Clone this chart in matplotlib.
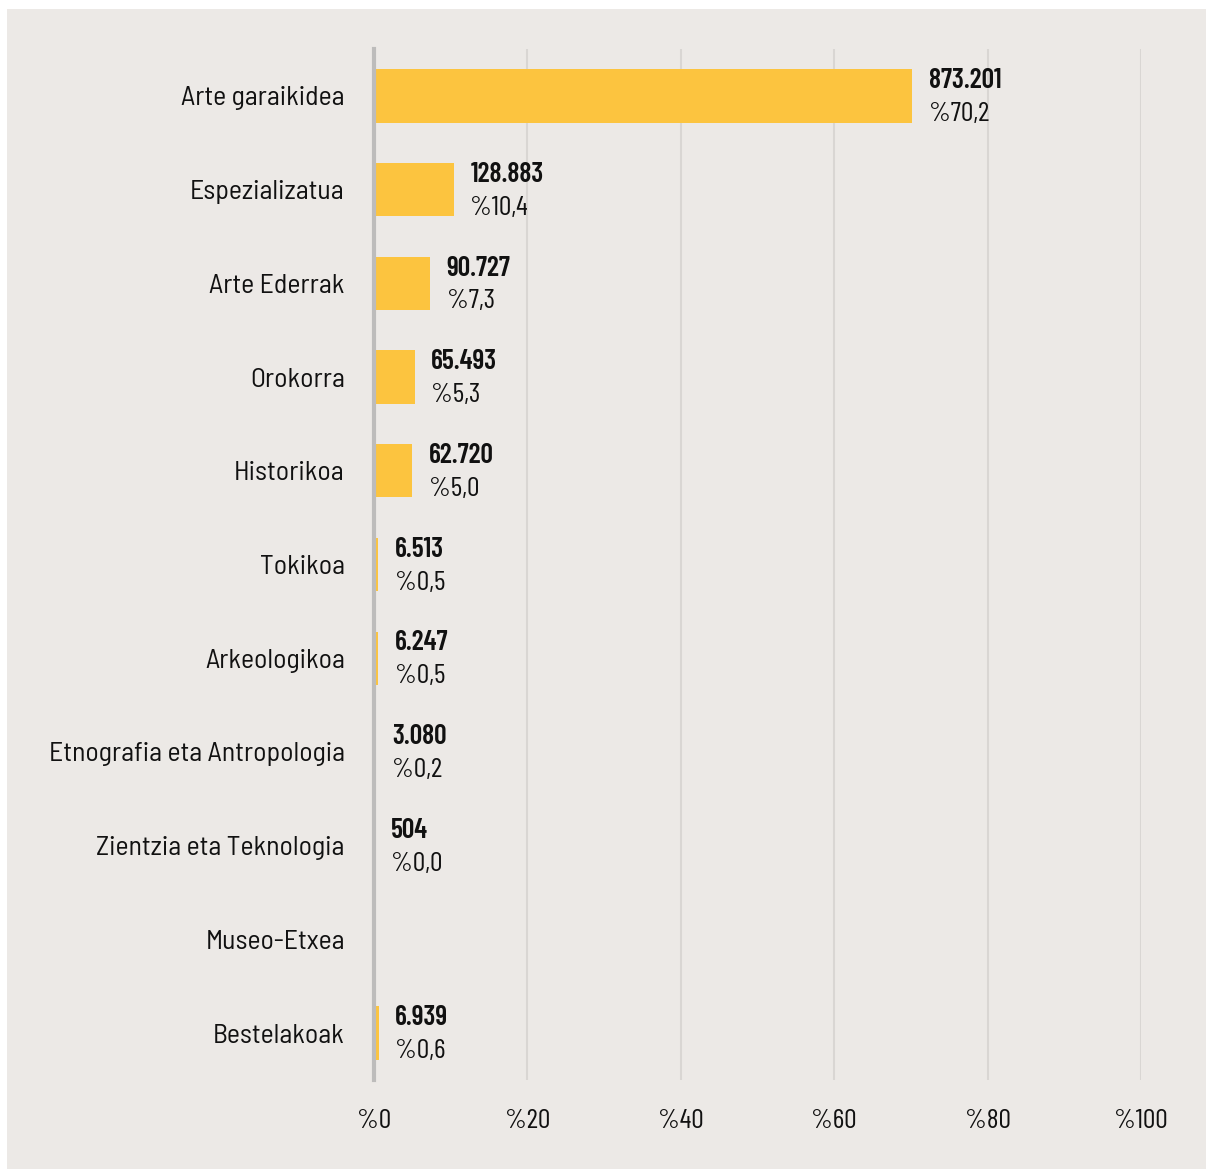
import matplotlib.pyplot as plt
from matplotlib.patches import Rectangle

# datuak
kategoriak = ["Arte garaikidea", "Espezializatua", "Arte Ederrak", "Orokorra",
              "Historikoa", "Tokikoa", "Arkeologikoa",
              "Etnografia eta Antropologia", "Zientzia eta Teknologia",
              "Museo-Etxea", "Bestelakoak"]
bisitariak = ["873.201", "128.883", "90.727", "65.493", "62.720", "6.513",
              "6.247", "3.080", "504", None, "6.939"]
portzentaiak = [70.2, 10.4, 7.3, 5.3, 5.0, 0.5, 0.5, 0.2, 0.0, 0.0, 0.6]
portz_etiketak = ["%70,2", "%10,4", "%7,3", "%5,3", "%5,0", "%0,5", "%0,5",
                  "%0,2", "%0,0", None, "%0,6"]
x_ticks = [0, 20, 40, 60, 80, 100]
x_tick_labels = ["%0", "%20", "%40", "%60", "%80", "%100"]

plt.rcParams['font.family'] = ['Barlow Condensed', 'Liberation Sans Narrow', 'DejaVu Sans']
label_font = ['Barlow Semi Condensed', 'Barlow Condensed', 'DejaVu Sans']

fondo = "#ECE9E6"
horia = "#FCC43F"
testua = "#111111"

fig = plt.figure(figsize=(12.06, 11.69), dpi=100)
fig.patch.set_facecolor("white")
fig.add_artist(Rectangle((7 / 1206, 0), 1 - 7 / 1206, 1 - 9 / 1169,
                         transform=fig.transFigure, facecolor=fondo,
                         edgecolor="none", zorder=-10))

ax = fig.add_axes([374 / 1206, 1 - 1080 / 1169, (1141 - 374) / 1206, (1080 - 49) / 1169])
ax.set_facecolor("none")

y = list(range(len(kategoriak)))
ax.barh(y, portzentaiak, height=0.57, color=horia, zorder=2)

for i in y:
    if bisitariak[i] is None:
        continue
    ax.annotate(bisitariak[i], (portzentaiak[i], i), xytext=(12, 11),
                textcoords="offset points", fontsize=20, fontweight=600,
                ha="left", va="center", color=testua)
    ax.annotate(portz_etiketak[i], (portzentaiak[i], i), xytext=(12, -13),
                textcoords="offset points", fontsize=20,
                ha="left", va="center", color=testua)

ax.set_xlim(0, 100)
ax.set_ylim(len(kategoriak) - 0.5, -0.5)
ax.set_yticks(y)
ax.set_yticklabels(kategoriak, fontsize=20, color=testua, family=label_font)
ax.set_xticks(x_ticks)
ax.set_xticklabels(x_tick_labels, fontsize=20, color=testua)
ax.tick_params(axis="both", length=0)
ax.tick_params(axis="y", pad=21)
ax.tick_params(axis="x", pad=21)

ax.grid(axis="x", color="#D9D6D3", linewidth=1.5, zorder=0)
for s in ["top", "right", "bottom"]:
    ax.spines[s].set_visible(False)
ax.spines["left"].set_color("#BDBCBB")
ax.spines["left"].set_linewidth(3)
ax.spines["left"].set_zorder(3)

fig.savefig("out.png", dpi=100, facecolor=fig.get_facecolor())
